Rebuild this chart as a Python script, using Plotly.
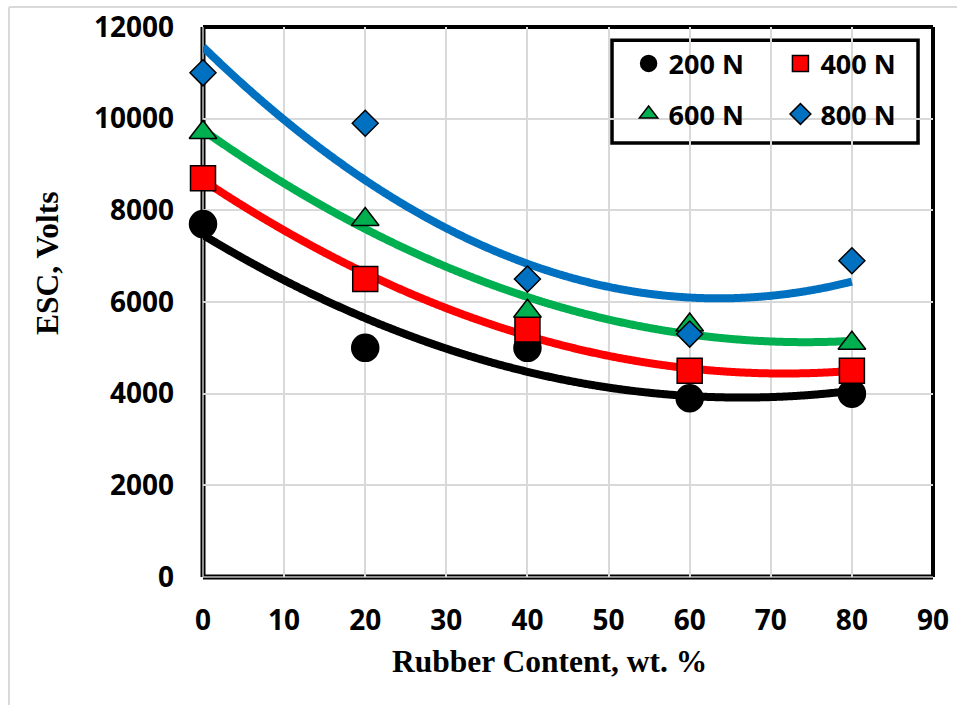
import numpy as np
import plotly.graph_objects as go

# ---- data ----
rubber = [0, 20, 40, 60, 80]
esc_200 = [7700, 5000, 5000, 3900, 4000]
esc_400 = [8700, 6500, 5400, 4500, 4500]
esc_600 = [9700, 7800, 5800, 5500, 5100]
esc_800 = [11000, 9900, 6500, 5300, 6900]
series_names = ["200 N", "400 N", "600 N", "800 N"]

x_ticks = [0, 10, 20, 30, 40, 50, 60, 70, 80, 90]
y_ticks = [0, 2000, 4000, 6000, 8000, 10000, 12000]

series = [esc_200, esc_400, esc_600, esc_800]
line_colors = ["#000000", "#FF0000", "#00B050", "#0070C0"]
symbols = ["circle", "square", "triangle-up", "diamond"]
msizes = [27, 25, 24, 20]
legend_ids = ["legend", "legend2", "legend3", "legend4"]

fig = go.Figure()

# polynomial (order 2) trendlines, like the spreadsheet trendlines
xs = np.linspace(min(rubber), max(rubber), 300)
for vals, col in zip(series, line_colors):
    coef = np.polyfit(rubber, vals, 2)
    fig.add_trace(go.Scatter(
        x=xs, y=np.polyval(coef, xs), mode="lines",
        line=dict(color=col, width=8, shape="spline"), showlegend=False,
        hoverinfo="skip", cliponaxis=False))

for vals, name, col, sym, ms, lg in zip(series, series_names, line_colors,
                                         symbols, msizes, legend_ids):
    fig.add_trace(go.Scatter(
        x=rubber, y=vals, mode="markers", name=name, legend=lg,
        marker=dict(symbol=sym, size=ms, color=col,
                    line=dict(color="#000000", width=1.5)),
        cliponaxis=False))

tick_font = dict(family="Open Sans", size=28, color="#000000", weight="bold")
title_font = dict(family="Liberation Serif", size=31.5, color="#000000", weight="bold")

fig.update_layout(
    width=957, height=705,
    margin=dict(l=203, r=24, t=27, b=128),
    paper_bgcolor="white", plot_bgcolor="white",
    xaxis=dict(range=[0, 90], tickvals=x_ticks, ticktext=[str(v) for v in x_ticks],
               showgrid=True, gridcolor="#D9D9D9", gridwidth=1.5, automargin=False,
               zeroline=False, showline=False, ticks="", ticklabeloverflow="allow",
               ticklabelstandoff=24, tickfont=tick_font),
    yaxis=dict(range=[0, 12000], tickvals=y_ticks, ticktext=[str(v) for v in y_ticks],
               showgrid=True, gridcolor="#D9D9D9", gridwidth=1.5, automargin=False,
               zeroline=False, showline=False, ticks="", ticklabeloverflow="allow",
               ticklabelstandoff=28, tickfont=tick_font),
)

leg_common = dict(font=dict(family="Open Sans", size=27, color="#000000", weight="bold"),
                  bgcolor="rgba(0,0,0,0)", borderwidth=0, orientation="v",
                  xanchor="left", yanchor="middle", itemsizing="trace")
leg_pos = {"legend": (0.583, 0.933), "legend2": (0.791, 0.933),
           "legend3": (0.583, 0.841), "legend4": (0.791, 0.841)}
for lg, (lx, ly) in leg_pos.items():
    fig.update_layout({lg: dict(x=lx, y=ly, **leg_common)})

shapes = [
    # outer light border (top and left)
    dict(type="line", xref="paper", yref="paper", x0=-0.2658, x1=1.04, y0=1.0364, y1=1.0364,
         line=dict(color="#D9D9D9", width=2), layer="below"),
    dict(type="line", xref="paper", yref="paper", x0=-0.2658, x1=-0.2658, y0=1.0364, y1=-0.24,
         line=dict(color="#D9D9D9", width=2), layer="below"),
    # plot frame: top & right solid black
    dict(type="line", xref="paper", yref="paper", x0=0, x1=1, y0=1, y1=1,
         line=dict(color="#000000", width=4), layer="between"),
    dict(type="line", xref="paper", yref="paper", x0=1, x1=1, y0=0, y1=1,
         line=dict(color="#000000", width=4), layer="between"),
    # left & bottom: double line
    dict(type="line", xref="paper", yref="paper", x0=0, x1=0, y0=0, y1=1,
         line=dict(color="#000000", width=5), layer="between"),
    dict(type="line", xref="paper", yref="paper", x0=0, x1=1, y0=0, y1=0,
         line=dict(color="#000000", width=5), layer="between"),
    dict(type="line", xref="paper", yref="paper", x0=0, x1=0, y0=0, y1=1,
         line=dict(color="#BFBFBF", width=1.5), layer="between"),
    dict(type="line", xref="paper", yref="paper", x0=0, x1=1, y0=0, y1=0,
         line=dict(color="#BFBFBF", width=1.5), layer="between"),
    # legend box
    dict(type="rect", xref="paper", yref="paper", x0=0.5603, x1=0.9795, y0=0.789, y1=0.976,
         line=dict(color="#000000", width=3.5), fillcolor="white", layer="between"),
]
fig.update_layout(shapes=shapes)

fig.add_annotation(text="ESC, Volts", xref="paper", yref="paper", x=-0.2123, y=0.571,
                   textangle=-90, showarrow=False, font=title_font,
                   xanchor="center", yanchor="middle")
fig.add_annotation(text="Rubber Content, wt. %", xref="paper", yref="paper", x=0.4753, y=-0.1545,
                   showarrow=False, font=title_font, xanchor="center", yanchor="middle")

fig.write_html("out.html", config={"displayModeBar": False},
               post_script="document.body.style.margin='0px';document.body.style.overflow='hidden';")
